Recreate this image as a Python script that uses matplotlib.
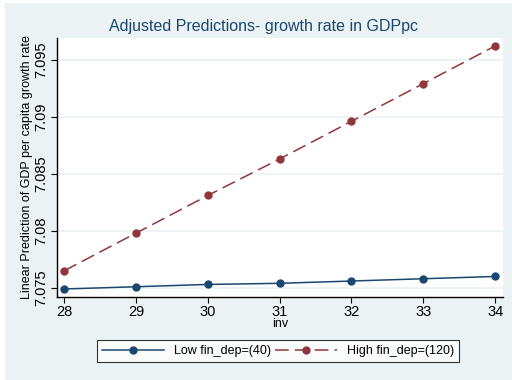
import matplotlib.pyplot as plt
from matplotlib.patches import Rectangle

plt.rcParams['font.family'] = ['Liberation Sans', 'DejaVu Sans']

inv = [28, 29, 30, 31, 32, 33, 34]
low = [7.0749, 7.0751, 7.0753, 7.0754, 7.0756, 7.0758, 7.0760]
high = [7.0765, 7.0798, 7.0831, 7.0863, 7.0896, 7.0929, 7.0962]
yticks = [7.075, 7.08, 7.085, 7.09, 7.095]
ylabels = ['7.075', '7.08', '7.085', '7.09', '7.095']

bg = '#eaf2f3'
fig = plt.figure(figsize=(5.12, 3.8), dpi=100, facecolor='white')
fig.patches.append(Rectangle((5 / 512, 0), 1, 1 - 3 / 380, transform=fig.transFigure,
                             facecolor=bg, edgecolor='none', zorder=-1))
ax = fig.add_axes([57 / 512, 1 - 297 / 380, 446 / 512, 259 / 380])
ax.set_facecolor('white')

ax.plot(inv, low, color='#1a476f', marker='o', markersize=5, lw=1.1,
        label='Low fin_dep=(40)')
ax.plot(inv, high, color='#90353b', marker='o', markersize=5, lw=1.1,
        dashes=(9, 4), label='High fin_dep=(120)')

ax.set_xlim(27.9, 34.11)
ax.set_ylim(7.0742, 7.0969)
ax.set_xticks(inv)
ax.set_yticks(yticks)
ax.set_yticklabels(ylabels, rotation=90, va='center')
ax.tick_params(labelsize=10.5, length=4, width=0.8, pad=2)
ax.grid(axis='y', color=bg, lw=1.2)
ax.set_axisbelow(True)
for s in ['top', 'right']:
    ax.spines[s].set_visible(False)
ax.spines['left'].set_linewidth(1)
ax.spines['bottom'].set_linewidth(1)

ax.set_xlabel('inv', fontsize=9, labelpad=-1)
ax.set_ylabel('Linear Prediction of GDP per capita growth rate', fontsize=9, labelpad=1)
fig.text(263.5 / 512, 1 - 27 / 380, 'Adjusted Predictions- growth rate in GDPpc',
         fontsize=11.5, color='#1a476f', ha='center', va='center')

leg = fig.legend(loc='center', bbox_to_anchor=(278 / 512, 1 - 351 / 380), ncol=2,
                 fontsize=9, frameon=True, fancybox=False, handlelength=5,
                 columnspacing=0.3, borderpad=0.4, edgecolor='black')
leg.get_frame().set_linewidth(0.8)

fig.savefig('out.png', dpi=100, facecolor=fig.get_facecolor())
